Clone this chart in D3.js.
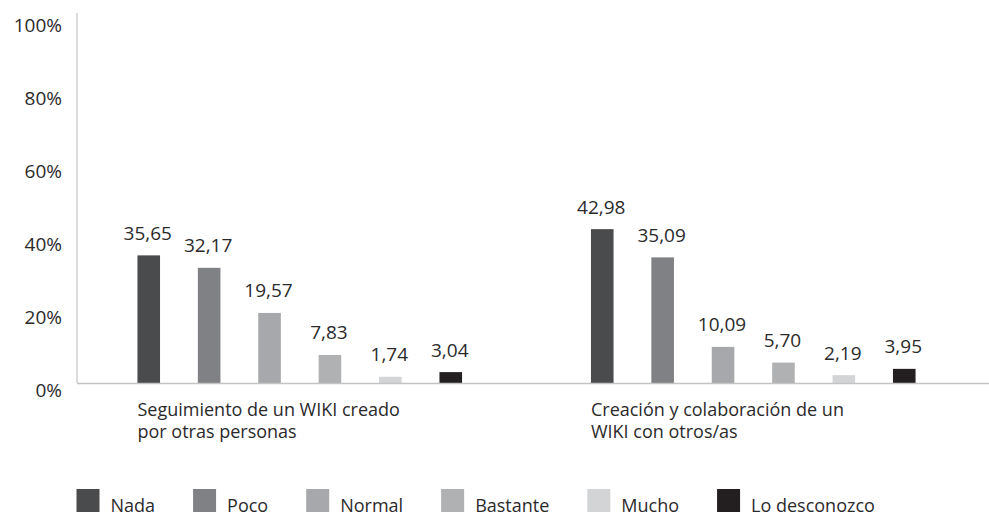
<!DOCTYPE html>
<html>
<head>
<meta charset="utf-8">
<script src="https://cdn.jsdelivr.net/npm/d3@7"></script>
<style>
    body { margin: 0; background: #fff; }
    text { font-family: "Open Sans", sans-serif; fill: #2b2a2b; }
</style>
</head>
<body>
<svg id="chart" width="989" height="515"></svg>
<script>
// Chart data
var categories = [
    ["Seguimiento de un WIKI creado", "por otras personas"],
    ["Creación y colaboración de un", "WIKI con otros/as"]
];
var series = ["Nada", "Poco", "Normal", "Bastante", "Mucho", "Lo desconozco"];
var values = [
    [35.65, 32.17, 19.57, 7.83, 1.74, 3.04],
    [42.98, 35.09, 10.09, 5.70, 2.19, 3.95]
];
var yTicks = [0, 20, 40, 60, 80, 100];
var colors = ["#4a4b4d", "#808184", "#a7a8ab", "#b0b1b3", "#d3d4d6", "#231f20"];

var svg = d3.select("#chart"),
    width = +svg.attr("width"),
    height = +svg.attr("height");

var axisX = 77, baseY = 383;

// Scales
var y = d3.scaleLinear().domain([0, 100]).range([baseY, baseY - 358]);

var x0 = d3.scaleBand()
    .domain(d3.range(categories.length))
    .range([73, 980]);

var x1 = d3.scaleBand()
    .domain(series)
    .range([0, x0.bandwidth()])
    .paddingInner(0.626)
    .paddingOuter(1.067);

var color = d3.scaleOrdinal().domain(series).range(colors);

var fmt = function(v) { return d3.format(".2f")(v).replace(".", ","); };

// Y axis labels
var yAxis = d3.axisLeft(y)
    .tickValues(yTicks)
    .tickSize(0)
    .tickPadding(15)
    .tickFormat(function(d) { return d + "%"; });

var gy = svg.append("g")
    .attr("transform", "translate(" + axisX + ",0)")
    .call(yAxis);
gy.select(".domain").remove();
gy.selectAll("text")
    .attr("font-size", 19)
    .attr("dy", function(d) { return (13 - d * 0.07) + "px"; })
    .style("fill", "#2b2a2b");

// Axis lines
svg.append("line")
    .attr("x1", axisX).attr("x2", axisX)
    .attr("y1", y(100) - 12).attr("y2", baseY)
    .attr("stroke", "#b8b8b8").attr("stroke-width", 1);

// Bars
var groups = svg.append("g").selectAll("g")
    .data(values)
    .enter().append("g")
    .attr("transform", function(d, i) { return "translate(" + x0(i) + ",0)"; });

groups.selectAll("rect")
    .data(function(d) { return d.map(function(v, j) { return {key: series[j], value: v}; }); })
    .enter().append("rect")
    .attr("x", function(d) { return x1(d.key); })
    .attr("y", function(d) { return y(d.value); })
    .attr("width", x1.bandwidth())
    .attr("height", function(d) { return baseY - y(d.value); })
    .attr("fill", function(d) { return color(d.key); });

groups.selectAll("text.value")
    .data(function(d) { return d.map(function(v, j) { return {key: series[j], value: v}; }); })
    .enter().append("text")
    .attr("class", "value")
    .attr("x", function(d) { return x1(d.key) + x1.bandwidth() / 2 - 1; })
    .attr("y", function(d) { return y(d.value) - 15.5; })
    .attr("text-anchor", "middle")
    .attr("font-size", 19)
    .text(function(d) { return fmt(d.value); });

svg.append("line")
    .attr("x1", axisX).attr("x2", width)
    .attr("y1", baseY + 0.5).attr("y2", baseY + 0.5)
    .attr("stroke", "#c4c4c4").attr("stroke-width", 1.5);

// Category labels, one text per line
groups.selectAll("text.cat")
    .data(function(d, i) { return categories[i]; })
    .enter().append("text")
    .attr("class", "cat")
    .attr("x", x1(series[0]))
    .attr("y", function(d, i) { return 416 + i * 21.5; })
    .attr("font-size", 18)
    .text(function(d) { return d; });

// Legend
var legend = svg.append("g");
var lx = 76.5;
series.forEach(function(s) {
    legend.append("rect")
        .attr("x", lx).attr("y", 489)
        .attr("width", 23).attr("height", 23)
        .attr("fill", color(s));
    var t = legend.append("text")
        .attr("x", lx + 34).attr("y", 511.5)
        .attr("font-size", 18)
        .text(s);
    lx += 34 + t.node().getComputedTextLength() + 38;
});
</script>
</body>
</html>
